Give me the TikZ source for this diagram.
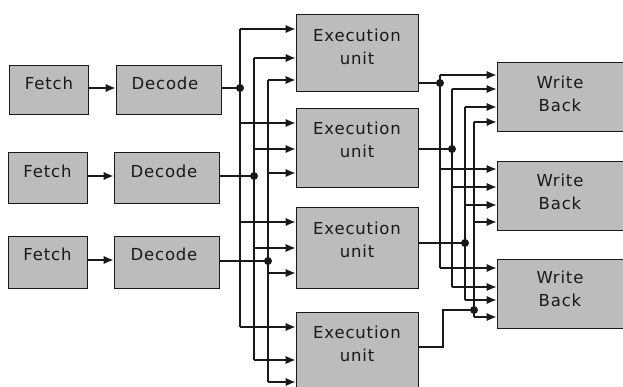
\documentclass[tikz,border=0pt]{standalone}
\usepackage{fontspec}
\setmainfont{DejaVu Sans}[LetterSpace=5]
\usetikzlibrary{arrows.meta}
\definecolor{boxgray}{RGB}{188,188,188}
\definecolor{ink}{RGB}{25,25,25}
\begin{document}
\begin{tikzpicture}[x=1pt,y=-1pt,
  box/.style={draw=ink, line width=1pt, fill=boxgray, inner sep=0pt},
  lbl/.style={font=\fontsize{16.5}{23}\selectfont, text=ink, inner sep=0pt, align=center},
  wire/.style={line width=1.3pt, draw=ink},
  arr/.style={wire, -{Latex[length=10pt,width=8.5pt]}},
  jdot/.style={fill=ink}]
\clip (0,0) rectangle (623,387);
% boxes
\node[box, minimum width=79pt, minimum height=49pt] (f1) at (48.5,90.5) {};
\node[box, minimum width=79pt, minimum height=51pt] (f2) at (47.5,178.5) {};
\node[box, minimum width=79pt, minimum height=51pt] (f3) at (47.5,262.5) {};
\node[box, minimum width=105pt, minimum height=49pt] (d1) at (168.5,90.5) {};
\node[box, minimum width=105pt, minimum height=51pt] (d2) at (166.5,178.5) {};
\node[box, minimum width=105pt, minimum height=51pt] (d3) at (166.5,262.5) {};
\node[box, minimum width=122pt, minimum height=77pt] (e1) at (357,53.5) {};
\node[box, minimum width=122pt, minimum height=79pt] (e2) at (357,148.5) {};
\node[box, minimum width=122pt, minimum height=80pt] (e3) at (357,248) {};
\node[box, minimum width=122pt, minimum height=80pt] (e4) at (357,352) {};
\node[box, minimum width=148pt, minimum height=69pt] (w1) at (571,97.5) {};
\node[box, minimum width=148pt, minimum height=69pt] (w2) at (571,196.5) {};
\node[box, minimum width=148pt, minimum height=69pt] (w3) at (571,293.5) {};
% labels
\node[lbl] (tf1) at (49,83) {Fetch};
\node[lbl] (tf2) at (47.5,171) {Fetch};
\node[lbl] (tf3) at (47.5,254) {Fetch};
\node[lbl] (td1) at (165,83) {Decode};
\node[lbl] (td2) at (164,171) {Decode};
\node[lbl] (td3) at (164,254) {Decode};
\node[lbl] (te1) at (357,46.5) {Execution\\unit};
\node[lbl] (te2) at (357,140) {Execution\\unit};
\node[lbl] (te3) at (357,239.5) {Execution\\unit};
\node[lbl] (te4) at (357,343.5) {Execution\\unit};
\node[lbl] (tw1) at (560,93.5) {Write\\Back};
\node[lbl] (tw2) at (560,192) {Write\\Back};
\node[lbl] (tw3) at (560,289) {Write\\Back};
% fetch -> decode
\draw[arr] ([yshift=2.5pt]f1.east) -- ([yshift=2.5pt]d1.east -| d1.west);
\draw[arr] ([yshift=2.5pt]f2.east) -- ([yshift=2.5pt]d2.east -| d2.west);
\draw[arr] ([yshift=2.5pt]f3.east) -- ([yshift=2.5pt]d3.east -| d3.west);
% bus coordinates
\coordinate (a1) at (240,29);  \coordinate (a2) at (240,123); \coordinate (a3) at (240,222); \coordinate (a4) at (240,327); \coordinate (ja) at (240,88);
\coordinate (b1) at (254,58);  \coordinate (b2) at (254,149); \coordinate (b3) at (254,248); \coordinate (b4) at (254,360); \coordinate (jb) at (254,176);
\coordinate (c1) at (268,80);  \coordinate (c2) at (268,173); \coordinate (c3) at (268,273); \coordinate (c4) at (268,382); \coordinate (jc) at (268,261);
\coordinate (p1) at (440,75);  \coordinate (p2) at (440,169); \coordinate (p3) at (440,268); \coordinate (jd) at (440,83);
\coordinate (q1) at (452,89);  \coordinate (q2) at (452,187); \coordinate (q3) at (452,287); \coordinate (je) at (452,149);
\coordinate (r1) at (465,107); \coordinate (r2) at (465,205); \coordinate (r3) at (465,300); \coordinate (jf) at (465,243);
\coordinate (s1) at (474,122); \coordinate (s2) at (474,222); \coordinate (s3) at (474,317); \coordinate (jg) at (474,310);
\coordinate (k4) at (443,347);
% decode outputs
\draw[wire] (d1.east |- ja) -- (ja);
\draw[wire] (d2.east |- jb) -- (jb);
\draw[wire] (d3.east |- jc) -- (jc);
% vertical buses
\draw[wire] (a1) -- (a4);
\draw[wire] (b1) -- (b4);
\draw[wire] (c1) -- (c4);
\draw[wire] (p1) -- (p3);
\draw[wire] (q1) -- (q3);
\draw[wire] (r1) -- (r3);
\draw[wire] (s1) -- (s3);
% arrows into execution units
\foreach \n/\t in {a1/e1,a2/e2,a3/e3,a4/e4,b1/e1,b2/e2,b3/e3,b4/e4,c1/e1,c2/e2,c3/e3,c4/e4}
  \draw[arr] (\n) -- (\n -| \t.west);
% execution outputs
\draw[wire] (e1.east |- jd) -- (jd);
\draw[wire] (e2.east |- je) -- (je);
\draw[wire] (e3.east |- jf) -- (jf);
\draw[wire] (e4.east |- k4) -- (k4) |- (jg);
% arrows into write back
\foreach \n/\t in {p1/w1,p2/w2,p3/w3,q1/w1,q2/w2,q3/w3,r1/w1,r2/w2,r3/w3,s1/w1,s2/w2,s3/w3}
  \draw[arr] (\n) -- (\n -| \t.west);
% junction dots
\foreach \j in {ja,jb,jc,jd,je,jf,jg}
  \fill[jdot] (\j) circle (4pt);
\end{tikzpicture}
\end{document}
